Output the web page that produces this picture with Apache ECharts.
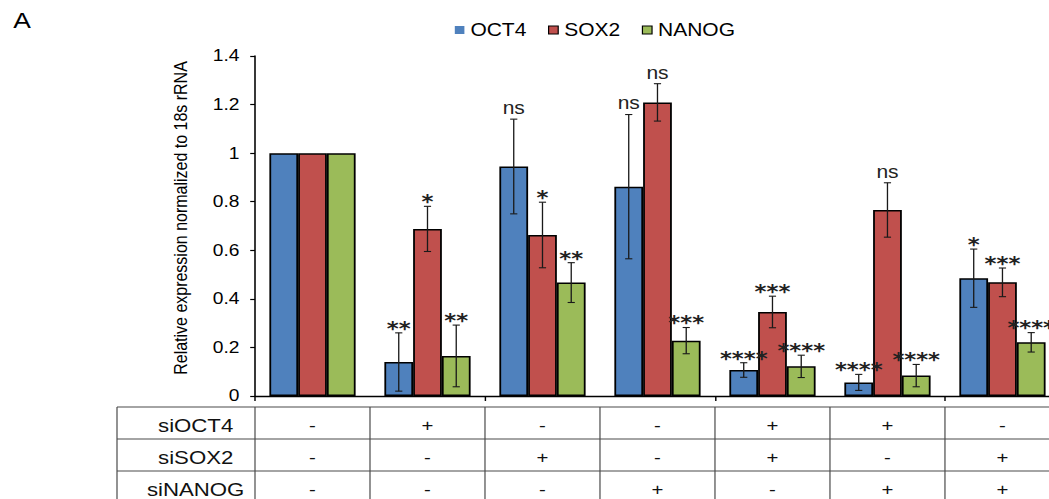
<!DOCTYPE html>
<html>
<head>
<meta charset="utf-8">
<script src="https://cdn.jsdelivr.net/npm/echarts@6/dist/echarts.min.js"></script>
<style>
  html, body { margin: 0; padding: 0; width: 1049px; height: 499px; overflow: hidden; background: #fff; }
  /* figure is laid out narrow and widened horizontally, like the exported panel */
  #chart { width: 900px; height: 499px; transform: scaleX(1.2); transform-origin: 0 0; }
</style>
</head>
<body>
<div id="chart"></div>
<script>
// Knock-down conditions (one bar group each)
const categories = ['Control', 'siOCT4', 'siSOX2', 'siNANOG', 'siOCT4+siSOX2', 'siOCT4+siNANOG', 'siSOX2+siNANOG'];

// Relative expression (normalized to 18s rRNA), mean and SD
const oct4 = [1, 0.14, 0.945, 0.862, 0.107, 0.056, 0.485];
const sox2 = [1, 0.688, 0.663, 1.209, 0.346, 0.766, 0.468];
const nanog = [1, 0.165, 0.467, 0.228, 0.122, 0.084, 0.221];
const oct4Err = [0, 0.12, 0.195, 0.297, 0.03, 0.033, 0.12];
const sox2Err = [0, 0.093, 0.135, 0.077, 0.065, 0.112, 0.059];
const nanogErr = [0, 0.127, 0.082, 0.054, 0.046, 0.046, 0.04];

// Significance versus control
const oct4Sig = ['', '**', 'ns', 'ns', '****', '****', '*'];
const sox2Sig = ['', '*', '*', 'ns', '***', 'ns', '***'];
const nanogSig = ['', '**', '**', '***', '****', '****', '****'];

// Transfection table under the axis
const rowLabels = ['siOCT4', 'siSOX2', 'siNANOG'];
const siOCT4Row = ['-', '+', '-', '-', '+', '+', '-'];
const siSOX2Row = ['-', '-', '+', '-', '+', '-', '+'];
const siNANOGRow = ['-', '-', '-', '+', '-', '+', '+'];

const genes = ['OCT4', 'SOX2', 'NANOG'];
const colors = ['#4F81BD', '#C0504D', '#9BBB59'];
const means = [oct4, sox2, nanog];
const errs = [oct4Err, sox2Err, nanogErr];
const sigs = [oct4Sig, sox2Sig, nanogSig];

const FONT = 'Liberation Sans, Arial, Helvetica, sans-serif';
const STAR_FONT = 'DejaVu Sans, Verdana, sans-serif';

const chart = echarts.init(document.getElementById('chart'), null, { renderer: 'svg' });

function errorSeries(g) {
  const offset = g - 1;
  return {
    type: 'custom',
    name: genes[g] + ' error',
    z: 5,
    silent: true,
    encode: { x: 0, y: 1 },
    data: categories.map((c, i) => [i, means[g][i], errs[g][i]]),
    renderItem: function (params, api) {
      const i = api.value(0);
      const m = api.value(1);
      const e = api.value(2);
      const catW = api.size([1, 0])[0];
      const barW = catW * 0.25;
      const cx = api.coord([i, 0])[0] + offset * barW;
      const yTop = api.coord([i, m + e])[1];
      const yBot = api.coord([i, m - e])[1];
      const children = [];
      const st = { stroke: '#1a1a1a', lineWidth: 1.1 };
      if (e > 0) {
        children.push({ type: 'line', shape: { x1: cx, y1: yTop, x2: cx, y2: yBot }, style: st });
        children.push({ type: 'line', shape: { x1: cx - 3, y1: yTop, x2: cx + 3, y2: yTop }, style: st });
        children.push({ type: 'line', shape: { x1: cx - 3, y1: yBot, x2: cx + 3, y2: yBot }, style: st });
      }
      const s = sigs[g][params.dataIndex];
      if (s) {
        const isStars = s.charAt(0) === '*';
        children.push({
          type: 'text',
          x: cx,
          y: yTop - (isStars ? 4.5 : 11),
          style: {
            text: s,
            align: 'center',
            verticalAlign: 'middle',
            fontSize: isStars ? 19 : 17.5,
            fontWeight: isStars ? 'bold' : 'normal',
            fontFamily: isStars ? STAR_FONT : FONT,
            fill: '#222'
          }
        });
      }
      return { type: 'group', children: children };
    }
  };
}

const barSeries = genes.map((name, g) => ({
  type: 'bar',
  name: name,
  data: means[g],
  barGap: '0%',
  barCategoryGap: '25%',
  itemStyle: { color: colors[g], borderColor: '#000', borderWidth: 1.5 }
}));

const option = {
  animation: false,
  title: {
    text: 'A', left: 11, top: 9, padding: 0,
    textStyle: { fontSize: 22, fontWeight: 'normal', color: '#000', fontFamily: FONT }
  },
  legend: {
    data: [
      { name: 'OCT4', itemStyle: { borderWidth: 0 } },
      { name: 'SOX2', itemStyle: { borderWidth: 1 } },
      { name: 'NANOG', itemStyle: { borderWidth: 1 } }
    ],
    left: 379,
    top: 21,
    icon: 'rect',
    itemWidth: 8,
    itemHeight: 8,
    itemGap: 18,
    padding: 0,
    textStyle: { fontSize: 17.5, color: '#000', fontFamily: FONT }
  },
  grid: { left: 212.5, right: 16.7, top: 56, bottom: 103 },
  xAxis: {
    type: 'category',
    data: categories,
    axisLine: { lineStyle: { color: '#000', width: 1.3 } },
    axisTick: { show: true, length: 5, lineStyle: { color: '#000', width: 1.2 } },
    axisLabel: { show: false },
    splitLine: { show: false }
  },
  yAxis: {
    type: 'value',
    min: 0,
    max: 1.4,
    interval: 0.2,
    name: 'Relative expression normalized to 18s rRNA',
    nameLocation: 'middle',
    nameGap: 54,
    nameTextStyle: { fontSize: 16, color: '#000', fontFamily: FONT, padding: [0, 0, 0, 16] },
    axisLine: { show: true, lineStyle: { color: '#000', width: 1.3 } },
    axisTick: { show: true, length: 4, lineStyle: { color: '#000', width: 1.2 } },
    axisLabel: {
      fontSize: 16, color: '#000', fontFamily: FONT, margin: 13,
      formatter: v => String(Math.round(v * 10) / 10)
    },
    splitLine: { show: false }
  },
  series: barSeries.concat([0, 1, 2].map(errorSeries))
};

chart.setOption(option);

// Table of transfected siRNAs, columns aligned with the category bands
(function drawTable() {
  const c0 = chart.convertToPixel({ xAxisIndex: 0 }, 0);
  const c1 = chart.convertToPixel({ xAxisIndex: 0 }, 1);
  const catW = c1 - c0;
  const axisX = c0 - catW / 2;
  const tableLeft = 97.5;
  const tableTop = 407;
  const rowH = 32;
  const right = axisX + catW * categories.length + 40;
  const line = { stroke: '#4a4a4a', lineWidth: 1 };
  const els = [];
  const rows = [siOCT4Row, siSOX2Row, siNANOGRow];
  for (let r = 0; r <= rows.length; r++) {
    const y = tableTop + r * rowH;
    els.push({ type: 'line', shape: { x1: tableLeft, y1: y, x2: right, y2: y }, style: line });
  }
  const bottom = tableTop + rows.length * rowH;
  els.push({ type: 'line', shape: { x1: tableLeft, y1: tableTop, x2: tableLeft, y2: bottom }, style: line });
  for (let k = 0; k <= categories.length; k++) {
    const x = axisX + k * catW;
    els.push({ type: 'line', shape: { x1: x, y1: tableTop, x2: x, y2: bottom }, style: line });
  }
  rows.forEach((row, r) => {
    const cy = tableTop + r * rowH + rowH / 2 + 2.5;
    els.push({
      type: 'text', x: tableLeft + (axisX - tableLeft) * 0.57, y: cy,
      style: { text: rowLabels[r], align: 'center', verticalAlign: 'middle', fontSize: 18.5, fontFamily: FONT, fill: '#111' }
    });
    row.forEach((sym, i) => {
      els.push({
        type: 'text', x: chart.convertToPixel({ xAxisIndex: 0 }, i), y: cy,
        style: { text: sym, align: 'center', verticalAlign: 'middle', fontSize: 17, fontFamily: FONT, fill: '#111' }
      });
    });
  });
  chart.setOption({ graphic: { elements: els } });
})();
</script>
</body>
</html>
